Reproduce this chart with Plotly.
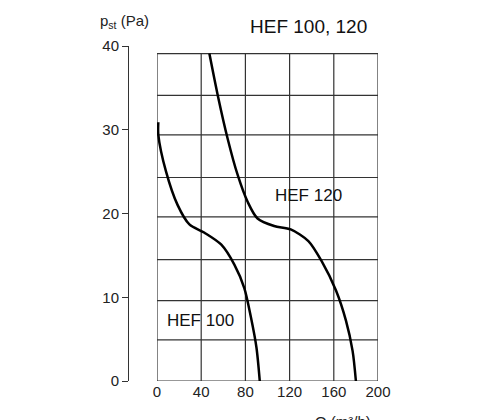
import plotly.graph_objects as go

hef100_q = [1.2, 1.2, 8.2, 18.7, 29.3, 43, 58, 70, 79, 85, 90, 93]
hef100_p = [30.9, 29.4, 25, 21, 18.7, 17.7, 16.3, 13.9, 11.1, 7.6, 4, 0]
hef120_q = [47.4, 55, 64, 73, 82, 91, 106, 121, 137, 149, 162, 171, 177, 180]
hef120_p = [39.1, 34.1, 28.9, 24.6, 21.4, 19.4, 18.5, 18.1, 16.7, 14.3, 10.8, 7.2, 3.6, 0]
x_ticks = [0, 40, 80, 120, 160, 200]
y_ticks = [0, 10, 20, 30, 40]

fig = go.Figure()
for q, p in [(hef100_q, hef100_p), (hef120_q, hef120_p)]:
    fig.add_trace(go.Scatter(x=q, y=p, mode="lines", line=dict(color="black", width=2.5, shape="spline", smoothing=0.8), showlegend=False))

fig.add_shape(type="rect", x0=0, x1=200, y0=0, y1=39.1, line=dict(color="#333", width=1.2), layer="below")
for v in [40, 80, 120, 160]:
    fig.add_shape(type="line", x0=v, x1=v, y0=0, y1=39.1, line=dict(color="#333", width=1.2), layer="below")
for v in [4.9, 9.6, 14.5, 19.6, 24.3, 29.4, 34.1]:
    fig.add_shape(type="line", x0=0, x1=200, y0=v, y1=v, line=dict(color="#333", width=1.2), layer="below")

font = dict(family="Liberation Sans, Arial", size=15, color="#222")
fig.add_annotation(x=137, y=22.1, text="HEF 120", showarrow=False, font=dict(family="Liberation Sans, Arial", size=17, color="#111"))
fig.add_annotation(x=39, y=7.2, text="HEF 100", showarrow=False, font=dict(family="Liberation Sans, Arial", size=17, color="#111"))
fig.add_annotation(xref="paper", yref="paper", x=0.72, y=1.02, yanchor="bottom", xanchor="center", text="HEF 100, 120", showarrow=False, font=dict(family="Liberation Sans, Arial", size=19, color="#111"))
fig.add_annotation(xref="paper", yref="paper", x=-0.12, y=1.04, yanchor="bottom", xanchor="left", text="p<sub>st</sub> (Pa)", showarrow=False, font=font)
fig.add_annotation(xref="paper", yref="paper", x=0.86, y=-0.09, yanchor="top", xanchor="center", text="Q (m³/h)", showarrow=False, font=font)

fig.update_layout(
    width=480, height=420, margin=dict(l=120, r=110, t=38, b=47),
    plot_bgcolor="white", paper_bgcolor="white", font=font,
    xaxis=dict(domain=[0.116, 1], range=[0, 200], tickvals=x_ticks, showgrid=False, zeroline=False, showline=False, ticks="", automargin=False),
    yaxis=dict(anchor="free", position=0, range=[0, 40], tickvals=y_ticks, showgrid=False, zeroline=False, automargin=False,
               showline=True, linecolor="#333", ticks="outside", ticklen=6, tickcolor="#333"),
)
fig.write_html("out.html")
